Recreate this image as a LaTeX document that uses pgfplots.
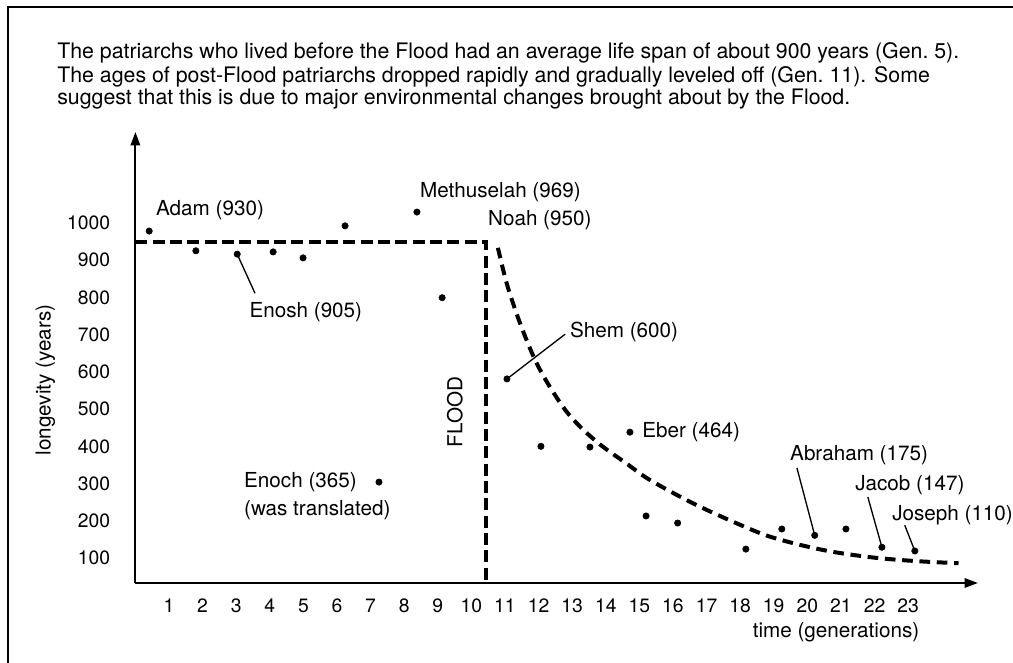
\documentclass[border=0pt]{standalone}
\usepackage{fontspec}
\setmainfont{TeX Gyre Heros}
\usepackage{pgfplots}
\pgfplotsset{compat=1.18}
\usetikzlibrary{arrows.meta}

\newcommand{\annot}{\fontsize{15.5}{18}\selectfont}
\newcommand{\tickf}{\fontsize{14.5}{17}\selectfont}

\begin{document}
\begin{tikzpicture}
\useasboundingbox (0,0) rectangle (759.75pt,497.25pt);
% frame (only top and left edges are inside the scan)
\draw[line width=1.1pt] (6pt,0) -- (6pt,492pt) -- (759.75pt,492pt);

% caption
\begin{scope}[every node/.style={anchor=base west, inner sep=0pt, font=\fontsize{16}{18}\selectfont}]
\node at (42.75pt,453pt) {The patriarchs who lived before the Flood had an average life span of about 900 years (Gen.~5).};
\node at (42.75pt,435pt) {The ages of post-Flood patriarchs dropped rapidly and gradually leveled off (Gen.~11). Some};
\node at (42.75pt,418.5pt) {suggest that this is due to major environmental changes brought about by the Flood.};
\end{scope}

\begin{axis}[
    at={(101.55pt,60pt)}, anchor=south west,
    scale only axis, width=631.95pt, height=338.25pt,
    xmin=0, xmax=25.08, ymin=33, ymax=1244,
    axis lines=left,
    axis line style={line width=1.5pt, -{Triangle[length=10pt,width=7pt]}},
    xtick={1,...,23},
    ytick={100,200,...,1000},
    major tick length=0pt,
    /pgf/number format/assume math mode=true,
    /pgf/number format/1000 sep={},
    tick label style={font=\tickf},
    yticklabel style={xshift=-15.5pt},
    xticklabel style={yshift=-8.5pt},
    xlabel={time (generations)},
    ylabel={longevity (years)},
    xlabel style={at={(axis description cs:0.8315,-0.1086)}, anchor=center, font=\annot},
    ylabel style={at={(axis description cs:-0.107,0.45)}, anchor=center, font=\annot},
    clip=false,
]
% pre-Flood level and the Flood
\addplot[black, line width=3pt, dash pattern=on 9pt off 4pt] coordinates {(0,948) (10.43,948) (10.43,33)};
% post-Flood decline
\addplot[black, line width=3pt, dash pattern=on 8pt off 5pt, smooth] coordinates {
 (10.79,933) (11.06,835) (11.45,730) (11.89,633) (12.3,565) (12.8,497) (13.3,447)
 (13.9,400) (14.6,355) (15.2,316) (16.0,275) (16.8,238) (17.8,197) (18.8,160)
 (19.8,135) (20.8,116) (22.0,101) (23.2,92) (24.5,86)};
% patriarchs
\addplot[only marks, mark=*, mark size=2.4pt, black] coordinates {
 (0.41,978) (1.80,925) (3.03,916) (4.10,922) (4.99,906) (6.24,992) (7.25,304) (8.38,1029) (9.13,799)
 (11.06,581) (12.07,400) (13.53,398) (14.72,438) (15.2,213) (16.14,194) (18.17,124) (19.24,178)
 (20.22,161) (21.15,178) (22.22,129) (23.2,119)};

\begin{scope}[every node/.style={anchor=west, inner sep=0pt, font=\annot}]
\node at (axis cs:0.61,1035) {Adam (930)};
\node at (axis cs:8.47,1083) {Methuselah (969)};
\node at (axis cs:10.49,1008) {Noah (950)};
\node at (axis cs:3.39,761) {Enosh (905)};
\node at (axis cs:3.23,304) {Enoch (365)};
\node at (axis cs:3.23,229) {(was translated)};
\node at (axis cs:12.93,707) {Shem (600)};
\node at (axis cs:15.08,438) {Eber (464)};
\node at (axis cs:19.48,377) {Abraham (175)};
\node at (axis cs:21.42,296) {Jacob (147)};
\node at (axis cs:22.52,215) {Joseph (110)};
\node[anchor=center, rotate=90] at (axis cs:9.51,492) {FLOOD};
\end{scope}
\draw[line width=1pt] (axis cs:3.03,916) -- (axis cs:3.56,811);
\draw[line width=1pt] (axis cs:11.06,581) -- (axis cs:12.79,701);
\draw[line width=1pt] (axis cs:20.22,161) -- (axis cs:19.69,342);
\draw[line width=1pt] (axis cs:22.22,129) -- (axis cs:21.80,264);
\draw[line width=1pt] (axis cs:23.2,119) -- (axis cs:22.90,188);
\end{axis}
\end{tikzpicture}
\end{document}
